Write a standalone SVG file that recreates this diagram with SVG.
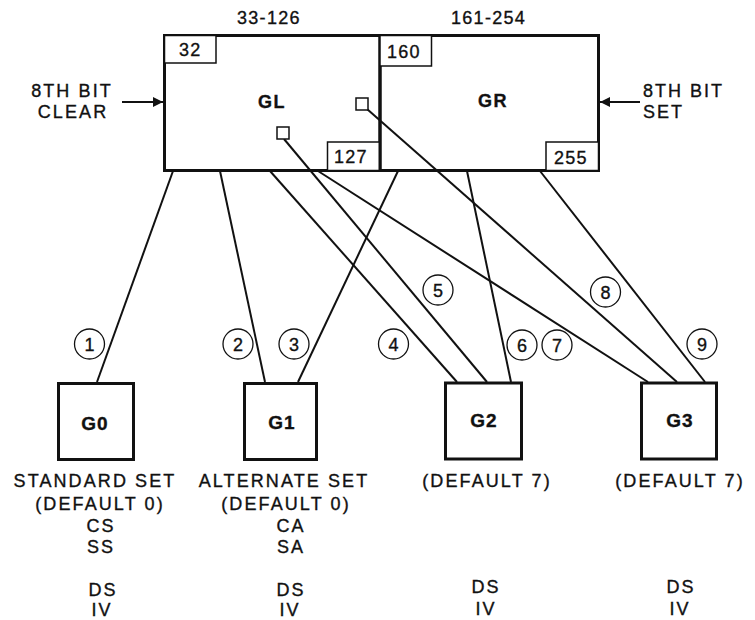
<svg xmlns="http://www.w3.org/2000/svg" width="755" height="620" viewBox="0 0 755 620">
<defs>
<style>
text{font-family:"Liberation Sans",Arial,sans-serif;fill:#111;stroke:#111;stroke-width:0.35px;}
.t{font-size:18px;letter-spacing:1.3px;}
.w{font-size:18px;letter-spacing:2.1px;text-anchor:middle;}
.b{font-size:18px;font-weight:bold;letter-spacing:1.5px;text-anchor:middle;}
.gb{font-size:19px;font-weight:bold;letter-spacing:1px;text-anchor:middle;}
.n{font-size:18px;text-anchor:middle;}
.box{fill:none;stroke:#111;stroke-width:3;}
.sm{fill:#fff;stroke:#111;stroke-width:1.5;}
.c{fill:none;stroke:#111;stroke-width:2;}
.ci{fill:#fff;stroke:#111;stroke-width:1.3;}
</style>
<marker id="ah" viewBox="0 0 10 10" refX="10" refY="5" markerWidth="20" markerHeight="10" markerUnits="userSpaceOnUse" orient="auto">
<path d="M0,0 L10,5 L0,10 Z" fill="#111"/>
</marker>
</defs>
<rect width="755" height="620" fill="#fff"/>

<g id="connectors">
<line class="c" x1="173" y1="171" x2="97" y2="382"/>
<line class="c" x1="220" y1="171" x2="265" y2="382"/>
<line class="c" x1="398" y1="171" x2="298" y2="382"/>
<line class="c" x1="270" y1="171" x2="457" y2="382"/>
<line class="c" x1="284" y1="139" x2="487" y2="382"/>
<line class="c" x1="467" y1="171" x2="511" y2="382"/>
<line class="c" x1="318" y1="171" x2="648" y2="382"/>
<line class="c" x1="367" y1="109" x2="677" y2="382"/>
<line class="c" x1="540" y1="171" x2="705" y2="382"/>
<line class="c" x1="122" y1="102" x2="163" y2="102" marker-end="url(#ah)"/>
<line class="c" x1="640" y1="102" x2="600" y2="102" marker-end="url(#ah)"/>
</g>

<g id="GL">
<rect class="box" x="164.5" y="35.5" width="215.5" height="135"/>
<rect class="sm" x="164.5" y="35.5" width="51.5" height="27.5"/>
<text class="t" x="179" y="56">32</text>
<rect class="sm" x="327.5" y="142" width="52.5" height="28.5"/>
<text class="t" x="334" y="163">127</text>
<text class="b" x="272" y="108">GL</text>
<rect class="sm" x="277" y="127" width="12" height="12"/>
<rect class="sm" x="356" y="98" width="12" height="12"/>
<text class="t" x="237" y="24">33-126</text>
</g>

<g id="GR">
<rect class="box" x="380" y="35.5" width="218.5" height="135"/>
<rect class="sm" x="380" y="35.5" width="51.5" height="30.5"/>
<text class="t" x="387" y="58">160</text>
<rect class="sm" x="546" y="142" width="52.5" height="28.5"/>
<text class="t" x="554" y="164">255</text>
<text class="b" x="493" y="107">GR</text>
<text class="t" x="451" y="24">161-254</text>
</g>

<g id="left-label">
<text class="w" x="72" y="97">8TH BIT</text>
<text class="w" x="73" y="118">CLEAR</text>
</g>
<g id="right-label">
<text class="t" x="643" y="97" style="letter-spacing:2px">8TH BIT</text>
<text class="t" x="643" y="118" style="letter-spacing:2px">SET</text>
</g>

<g id="G0">
<rect class="box" x="58.5" y="383.5" width="75" height="76"/>
<text class="gb" x="95" y="430">G0</text>
<text class="w" x="95" y="487">STANDARD SET</text>
<text class="w" x="100" y="510">(DEFAULT 0)</text>
<text class="w" x="101" y="532">CS</text>
<text class="w" x="101" y="553">SS</text>
<text class="w" x="103" y="596">DS</text>
<text class="w" x="102" y="616">IV</text>
</g>

<g id="G1">
<rect class="box" x="244.5" y="383.5" width="72" height="76"/>
<text class="gb" x="282" y="429">G1</text>
<text class="w" x="284" y="487">ALTERNATE SET</text>
<text class="w" x="286" y="510">(DEFAULT 0)</text>
<text class="w" x="291" y="532">CA</text>
<text class="w" x="291" y="553">SA</text>
<text class="w" x="291" y="596">DS</text>
<text class="w" x="290" y="616">IV</text>
</g>

<g id="G2">
<rect class="box" x="445.5" y="383" width="76" height="76"/>
<text class="gb" x="484" y="427">G2</text>
<text class="w" x="487" y="487">(DEFAULT 7)</text>
<text class="w" x="486" y="593">DS</text>
<text class="w" x="486" y="615">IV</text>
</g>

<g id="G3">
<rect class="box" x="641.5" y="383" width="75" height="76"/>
<text class="gb" x="680" y="427">G3</text>
<text class="w" x="680" y="487">(DEFAULT 7)</text>
<text class="w" x="681" y="593">DS</text>
<text class="w" x="680" y="615">IV</text>
</g>

<g id="labels">
<circle class="ci" cx="89.5" cy="344" r="15"/><text class="n" x="89.5" y="350.5">1</text>
<circle class="ci" cx="238" cy="344" r="15"/><text class="n" x="238" y="350.5">2</text>
<circle class="ci" cx="294" cy="344" r="15"/><text class="n" x="294" y="350.5">3</text>
<circle class="ci" cx="393.5" cy="344" r="15"/><text class="n" x="393.5" y="350.5">4</text>
<circle class="ci" cx="438" cy="290" r="15"/><text class="n" x="438" y="296.5">5</text>
<circle class="ci" cx="522" cy="345" r="15"/><text class="n" x="522" y="351.5">6</text>
<circle class="ci" cx="557" cy="345" r="15"/><text class="n" x="557" y="351.5">7</text>
<circle class="ci" cx="605.5" cy="292" r="15"/><text class="n" x="605.5" y="298.5">8</text>
<circle class="ci" cx="702" cy="344" r="15"/><text class="n" x="702" y="350.5">9</text>
</g>
</svg>
